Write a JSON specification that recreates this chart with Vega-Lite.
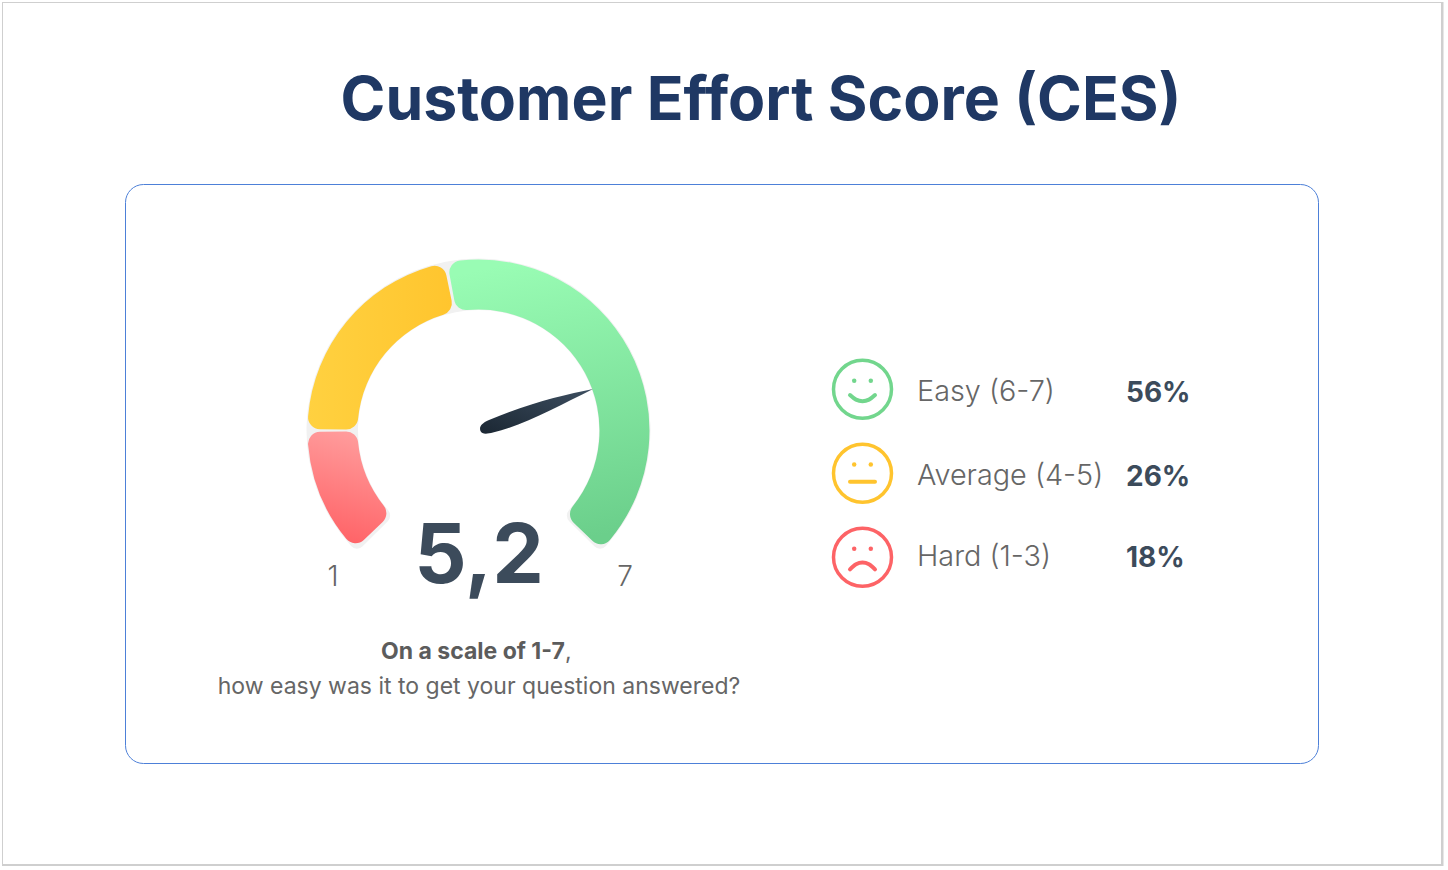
{
"$schema":"https://vega.github.io/schema/vega-lite/v6.json",
"width":1448,"height":870,"padding":0,
"autosize":{"type":"fit","contains":"padding"},
"background":"white",
"config":{"view":{"stroke":null},"font":"Inter"},
"encoding":{
 "x":{"field":"x","type":"quantitative","axis":null,"scale":{"domain":[0,1448],"nice":false,"zero":false}},
 "y":{"field":"y","type":"quantitative","axis":null,"scale":{"domain":[870,0],"nice":false,"zero":false}}
},
"layer":[
{"data":{"values":[{"x":2,"x2":1443.5,"y":2,"y2":866}]},"mark":{"type":"rect","fill":"#cfcfcf"},"encoding":{"x2":{"field":"x2"},"y2":{"field":"y2"}}},
{"data":{"values":[{"x":3,"x2":1441,"y":3,"y2":864}]},"mark":{"type":"rect","fill":"#ffffff"},"encoding":{"x2":{"field":"x2"},"y2":{"field":"y2"}}},
{"data":{"values":[{"x":125.5,"x2":1318.5,"y":184.5,"y2":763.5}]},"mark":{"type":"rect","fill":"#ffffff","stroke":"#4d80d8","strokeWidth":1,"cornerRadius":18},"encoding":{"x2":{"field":"x2"},"y2":{"field":"y2"}}},
{"data":{"values":[{"x":478.5,"y":430.5,"start":1,"end":7}]},"mark":{"type":"arc","radius":172,"radius2":120.5,"cornerRadius":8,"fill":"#f1f1f1"},"encoding":{"theta":{"field":"start","type":"quantitative","scale":{"domain":[1,7],"range":[-2.3562,2.3562]}},"theta2":{"field":"end"}}},
{"data":{"values":[{"x":478.5,"y":430.5,"band":"Hard","start":1.03,"end":1.99}]},"mark":{"type":"arc","radius":171,"radius2":121,"cornerRadius":12,"fill":{"gradient":"linear","x1":0.6,"y1":0,"x2":0.4,"y2":1,"stops":[{"offset":0,"color":"#ff9d9d"},{"offset":1,"color":"#ff6266"}]}},"encoding":{"theta":{"field":"start","type":"quantitative","scale":{"domain":[1,7],"range":[-2.3562,2.3562]}},"theta2":{"field":"end"}}},
{"data":{"values":[{"x":478.5,"y":430.5,"band":"Average","start":2.01,"end":3.74}]},"mark":{"type":"arc","radius":171,"radius2":121,"cornerRadius":12,"fill":{"gradient":"linear","x1":0,"y1":0,"x2":1,"y2":0,"stops":[{"offset":0,"color":"#ffd140"},{"offset":1,"color":"#ffc52e"}]}},"encoding":{"theta":{"field":"start","type":"quantitative","scale":{"domain":[1,7],"range":[-2.3562,2.3562]}},"theta2":{"field":"end"}}},
{"data":{"values":[{"x":478.5,"y":430.5,"band":"Easy","start":3.766,"end":6.98}]},"mark":{"type":"arc","radius":171,"radius2":121,"cornerRadius":12,"fill":{"gradient":"linear","x1":0.4,"y1":0,"x2":0.55,"y2":1,"stops":[{"offset":0,"color":"#99fcb4"},{"offset":1,"color":"#6bcf8b"}]}},"encoding":{"theta":{"field":"start","type":"quantitative","scale":{"domain":[1,7],"range":[-2.3562,2.3562]}},"theta2":{"field":"end"}}},
{"data":{"values":[{"x":484,"y":428,"label":"needle"}]},"mark":{"type":"point","filled":true,"size":4,"opacity":1,"shape":"M109,-39 C80,-33 45,-25 5,-8 C-3,-4.5 -5,-1 -3.5,3 C-2,6.5 3,6 9,4.5 C40,-3 75,-22 109,-39 Z","fill":{"gradient":"linear","x1":0,"y1":1,"x2":1,"y2":0,"stops":[{"offset":0,"color":"#1b2733"},{"offset":1,"color":"#3d4e60"}]}}},
{"data":{"values":[{"x":862.5,"y":389.3,"c":"Easy"},{"x":862.5,"y":473.3,"c":"Average"},{"x":862.5,"y":557.3,"c":"Hard"}]},"mark":{"type":"point","shape":"circle","filled":false,"size":3364,"strokeWidth":3.5,"opacity":1},"encoding":{"stroke":{"field":"c","type":"nominal","legend":null,"scale":{"domain":["Easy","Average","Hard"],"range":["#72d68d","#ffc42e","#fd6366"]}}}},
{"data":{"values":[{"x":854.2,"y":380.7,"c":"Easy"},{"x":870.8,"y":380.7,"c":"Easy"},{"x":854.2,"y":464.5,"c":"Average"},{"x":870.8,"y":464.5,"c":"Average"},{"x":854.2,"y":548.7,"c":"Hard"},{"x":870.8,"y":548.7,"c":"Hard"}]},"mark":{"type":"point","shape":"circle","filled":true,"size":20,"opacity":1},"encoding":{"fill":{"field":"c","type":"nominal","legend":null,"scale":{"domain":["Easy","Average","Hard"],"range":["#72d68d","#ffc42e","#fd6366"]}}}},
{"data":{"values":[
{"x":850,"y":395,"c":"Easy"},{"x":856,"y":399.6,"c":"Easy"},{"x":862.5,"y":401.2,"c":"Easy"},{"x":869,"y":399.6,"c":"Easy"},{"x":875,"y":395,"c":"Easy"},
{"x":850,"y":481.8,"c":"Average"},{"x":875,"y":481.8,"c":"Average"},
{"x":850,"y":569.3,"c":"Hard"},{"x":856,"y":564.2,"c":"Hard"},{"x":862.5,"y":562.5,"c":"Hard"},{"x":869,"y":564.2,"c":"Hard"},{"x":875,"y":569.3,"c":"Hard"}
]},"mark":{"type":"line","interpolate":"monotone","strokeWidth":4,"strokeCap":"round"},"encoding":{"color":{"field":"c","type":"nominal","legend":null,"scale":{"domain":["Easy","Average","Hard"],"range":["#72d68d","#ffc42e","#fd6366"]}}}},
{"data":{"values":[{"x":761,"y":120,"t":"Customer Effort Score (CES)"}]},"mark":{"type":"text","font":"Inter","fontSize":60.7,"fontWeight":700,"fill":"#1f3864","align":"center","baseline":"alphabetic"},"encoding":{"text":{"field":"t"}}},
{"data":{"values":[{"x":479,"y":583,"t":"5,2"}]},"mark":{"type":"text","font":"Inter","fontSize":82,"fontWeight":700,"fill":"#3c4b5b","align":"center","baseline":"alphabetic"},"encoding":{"text":{"field":"t"}}},
{"data":{"values":[{"x":333,"y":586,"t":"1"},{"x":625,"y":586,"t":"7"}]},"mark":{"type":"text","font":"Inter","fontSize":28,"fontWeight":300,"fill":"#666666","align":"center","baseline":"alphabetic"},"encoding":{"text":{"field":"t"}}},
{"data":{"values":[{"x":381,"y":659,"t":"On a scale of 1-7"}]},"mark":{"type":"text","font":"Inter","fontSize":23,"fontWeight":700,"fill":"#5c5c5c","align":"left","baseline":"alphabetic"},"encoding":{"text":{"field":"t"}}},
{"data":{"values":[{"x":565,"y":659,"t":","}]},"mark":{"type":"text","font":"Inter","fontSize":23,"fontWeight":400,"fill":"#666666","align":"left","baseline":"alphabetic"},"encoding":{"text":{"field":"t"}}},
{"data":{"values":[{"x":479,"y":694,"t":"how easy was it to get your question answered?"}]},"mark":{"type":"text","font":"Inter","fontSize":23,"fontWeight":400,"fill":"#666666","align":"center","baseline":"alphabetic"},"encoding":{"text":{"field":"t"}}},
{"data":{"values":[{"x":917,"y":400.7,"t":"Easy (6-7)"},{"x":917,"y":484.7,"t":"Average (4-5)"},{"x":917,"y":566,"t":"Hard (1-3)"}]},"mark":{"type":"text","font":"Inter","fontSize":28.8,"fontWeight":300,"fill":"#666666","align":"left","baseline":"alphabetic"},"encoding":{"text":{"field":"t"}}},
{"data":{"values":[{"x":1126,"y":401.7,"t":"56%"},{"x":1126,"y":486,"t":"26%"},{"x":1126,"y":567,"t":"18%"}]},"mark":{"type":"text","font":"Inter","fontSize":28,"fontWeight":700,"fill":"#3c4b5b","align":"left","baseline":"alphabetic"},"encoding":{"text":{"field":"t"}}}
]
}
